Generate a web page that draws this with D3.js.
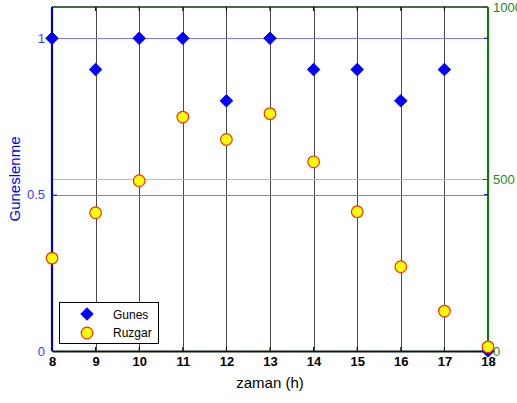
<!DOCTYPE html>
<html>
<head>
<meta charset="utf-8">
<script src="https://cdn.jsdelivr.net/npm/d3@7"></script>
<style>
  html, body { margin: 0; padding: 0; background: #fff; }
  svg { display: block; font-family: "Liberation Sans", Arial, sans-serif; }
</style>
</head>
<body>
<svg id="chart" width="517" height="403"></svg>
<script>
// Hours of the day
const hours = [8, 9, 10, 11, 12, 13, 14, 15, 16, 17, 18];
// Sunshine ratio (left axis)
const gunes = [1, 0.9, 1, 1, 0.8, 1, 0.9, 0.9, 0.8, 0.9, 0];
// Wind (right axis)
const ruzgar = [270, 402, 495, 680, 615, 690, 550, 405, 245, 116, 12];
// Tick labels
const leftTicks = [0, 0.5, 1];
const rightTicks = [0, 500, 1000];
const legendLabels = ["Gunes", "Ruzgar"];

const svg = d3.select("#chart");
const L = 52, R = 488, T = 7, B = 351;

const x = d3.scaleLinear().domain([8, 18]).range([L, R]);
const yL = d3.scaleLinear().domain([0, 1.1]).range([B, T]);
const yR = d3.scaleLinear().domain([0, 1000]).range([B, T]);

const blue = "#0000ff", green = "#008000";

// vertical grid lines at each hour
svg.append("g").selectAll("line").data(hours).join("line")
  .attr("x1", d => Math.round(x(d)) + 0.5).attr("x2", d => Math.round(x(d)) + 0.5)
  .attr("y1", T).attr("y2", B)
  .attr("stroke", "#4a4a4a").attr("stroke-width", 1);

// horizontal grid lines for left axis
svg.append("g").selectAll("line").data(leftTicks.filter(d => d > 0)).join("line")
  .attr("x1", L).attr("x2", R)
  .attr("y1", d => Math.round(yL(d)) + 0.5).attr("y2", d => Math.round(yL(d)) + 0.5)
  .attr("stroke", "#7b7bff").attr("stroke-width", 1);

// horizontal grid lines for right axis
svg.append("g").selectAll("line").data(rightTicks.filter(d => d > 0 && d < 1000)).join("line")
  .attr("x1", L).attr("x2", R)
  .attr("y1", d => Math.round(yR(d)) + 0.5).attr("y2", d => Math.round(yR(d)) + 0.5)
  .attr("stroke", "#9fcf9f").attr("stroke-width", 1);

// top border
svg.append("line").attr("x1", L).attr("x2", R).attr("y1", T).attr("y2", T)
  .attr("stroke", "#0a3a0a").attr("stroke-width", 1.5);

// small tick marks along top and bottom
const tickG = svg.append("g").attr("stroke", "#000").attr("stroke-width", 1);
hours.forEach(h => {
  tickG.append("line").attr("x1", x(h)).attr("x2", x(h)).attr("y1", T).attr("y2", T + 4);
  tickG.append("line").attr("x1", x(h)).attr("x2", x(h)).attr("y1", B).attr("y2", B - 4);
});

// bottom axis
const xAxis = d3.axisBottom(x).tickValues(hours).tickFormat(d3.format("d")).tickSize(0).tickPadding(6);
const gx = svg.append("g").attr("transform", `translate(0,${B})`).call(xAxis);
gx.select(".domain").attr("stroke", "#0a1a0a").attr("stroke-width", 2.2);
gx.selectAll("text").attr("font-size", 13).attr("font-weight", "bold").attr("fill", "#000")
  .attr("font-family", "Liberation Sans, Arial, sans-serif");

// left axis
const yAxisL = d3.axisLeft(yL).tickValues(leftTicks).tickFormat(d => d === 0.5 ? "0.5" : d3.format("d")(d))
  .tickSize(-5).tickPadding(7);
const gyl = svg.append("g").attr("transform", `translate(${L},0)`).call(yAxisL);
gyl.select(".domain").attr("stroke", "#0000c8").attr("stroke-width", 2.2).attr("d", `M0,${T}V${B}`);
gyl.selectAll(".tick line").attr("stroke", blue);
gyl.selectAll("text").attr("font-size", 13).attr("fill", "#3b3bff")
  .attr("font-family", "Liberation Sans, Arial, sans-serif");

// right axis
const yAxisR = d3.axisRight(yR).tickValues(rightTicks).tickFormat(d3.format("d"))
  .tickSize(-5).tickPadding(5);
const gyr = svg.append("g").attr("transform", `translate(${R},0)`).call(yAxisR);
gyr.select(".domain").attr("stroke", green).attr("stroke-width", 2).attr("d", `M0,${T}V${B}`);
gyr.selectAll(".tick line").attr("stroke", green);
gyr.selectAll("text").attr("font-size", 13).attr("fill", "#1a8a1a")
  .attr("font-family", "Liberation Sans, Arial, sans-serif");

// left-axis ticks mirrored on the right edge
svg.append("g").selectAll("line").data(leftTicks.filter(d => d > 0)).join("line")
  .attr("x1", R - 4).attr("x2", R).attr("y1", d => yL(d)).attr("y2", d => yL(d))
  .attr("stroke", blue);

// axis titles
svg.append("text").attr("x", x(13)).attr("y", 388).attr("text-anchor", "middle")
  .attr("font-size", 15).attr("fill", "#000").text("zaman (h)");
svg.append("text").attr("transform", `translate(20,${(yL(0) + yL(1.1)) / 2}) rotate(-90)`)
  .attr("text-anchor", "middle").attr("font-size", 15).attr("fill", blue).text("Guneslenme");

// diamond markers (Gunes)
const diamond = d3.symbol().type(d3.symbolDiamond2).size(100);
svg.append("g").selectAll("path").data(hours.map((h, i) => [h, gunes[i]])).join("path")
  .attr("d", diamond)
  .attr("transform", d => `translate(${x(d[0])},${yL(d[1])})`)
  .attr("fill", blue).attr("stroke", blue).attr("stroke-width", 1);

// circle markers (Ruzgar)
svg.append("g").selectAll("circle").data(hours.map((h, i) => [h, ruzgar[i]])).join("circle")
  .attr("cx", d => x(d[0])).attr("cy", d => yR(d[1])).attr("r", 5.8)
  .attr("fill", "#ffff00").attr("stroke", "#ff2a00").attr("stroke-width", 1.2);

// legend
const lg = svg.append("g");
lg.append("rect").attr("x", 59.5).attr("y", 302.5).attr("width", 99).attr("height", 41)
  .attr("fill", "#fff").attr("stroke", "#000").attr("stroke-width", 1);
lg.append("path").attr("d", diamond).attr("transform", "translate(87,314)")
  .attr("fill", blue).attr("stroke", blue);
lg.append("circle").attr("cx", 87).attr("cy", 333).attr("r", 5.8)
  .attr("fill", "#ffff00").attr("stroke", "#ff2a00").attr("stroke-width", 1.2);
lg.selectAll("text").data(legendLabels).join("text")
  .attr("x", 113).attr("y", (d, i) => 318.5 + i * 18.5)
  .attr("font-size", 12).attr("fill", "#000").text(d => d);
</script>
</body>
</html>
